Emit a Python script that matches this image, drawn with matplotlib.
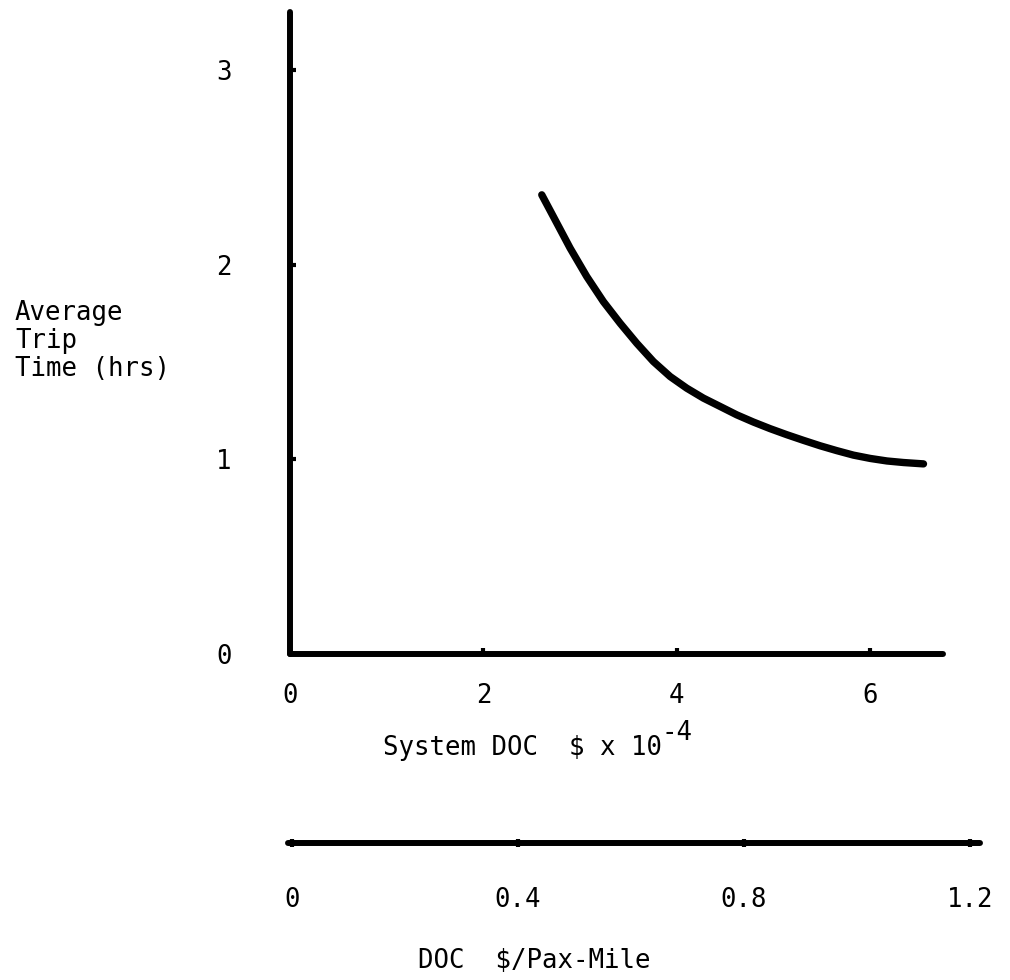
import matplotlib
matplotlib.use("Agg")
import matplotlib.pyplot as plt
import numpy as np

# curve (System DOC $ x 1e-4 vs trip time in hrs)
doc_sys = [2.603, 2.723, 2.896, 3.068, 3.240, 3.413, 3.585, 3.757, 3.930, 4.102,
           4.274, 4.447, 4.619, 4.791, 4.964, 5.136, 5.308, 5.481, 5.653, 5.825,
           5.998, 6.171, 6.342, 6.549]
trip_hrs = [2.360, 2.248, 2.086, 1.940, 1.811, 1.700, 1.597, 1.503, 1.426, 1.366,
            1.315, 1.272, 1.229, 1.192, 1.158, 1.127, 1.098, 1.070, 1.045, 1.022,
            1.005, 0.992, 0.984, 0.977]

x_ticks = [0, 2, 4, 6]
y_ticks = [0, 1, 2, 3]
pax_ticks = [0, 0.4, 0.8, 1.2]
pax_labels = ["0", "0.4", "0.8", "1.2"]

plt.rcParams["font.family"] = ["DejaVu Sans Mono"]
plt.rcParams["font.size"] = 18.5

fig = plt.figure(figsize=(10.1, 9.8), dpi=100)

# main axes
ax = fig.add_axes([0.2871, 0.3327, 0.6465, 0.6551])
ax.plot(doc_sys, trip_hrs, color="black", lw=5.3, solid_capstyle="round", solid_joinstyle="round")
ax.set_xlim(0, 6.75)
ax.set_ylim(0, 3.30)
for s in ["top", "right"]:
    ax.spines[s].set_visible(False)
for s in ["left", "bottom"]:
    ax.spines[s].set_linewidth(4.3)
    ax.spines[s].set_capstyle("round")
ax.set_xticks(x_ticks)
ax.set_yticks(y_ticks)
ax.tick_params(axis="x", direction="in", length=4, width=3, pad=21)
ax.tick_params(axis="y", direction="in", length=4, width=3, pad=42)

# second scale below
ax2 = fig.add_axes([288 / 1010, 1 - 843 / 980, 692 / 1010, 0.01])
ax2.set_xlim(-0.007, 1.218)
ax2.set_yticks([])
for s in ["top", "right", "left"]:
    ax2.spines[s].set_visible(False)
ax2.spines["bottom"].set_linewidth(4.3)
ax2.spines["bottom"].set_capstyle("round")
ax2.patch.set_visible(False)
ax2.set_xticks(pax_ticks)
ax2.set_xticklabels(pax_labels)
ax2.tick_params(axis="x", direction="inout", length=6, width=3, pad=29)

# labels
fig.text(15 / 1010, 1 - 300 / 980, "Average\nTrip\nTime (hrs)", ha="left", va="top", linespacing=1.1)
fig.text(383 / 1010, 1 - 755 / 980, "System DOC  $ x 10", ha="left", va="baseline")
fig.text(661 / 1010, 1 - 740 / 980, "-4", ha="left", va="baseline")
fig.text(418 / 1010, 1 - 968 / 980, "DOC  $/Pax-Mile", ha="left", va="baseline")

fig.savefig("out.png", dpi=100)
